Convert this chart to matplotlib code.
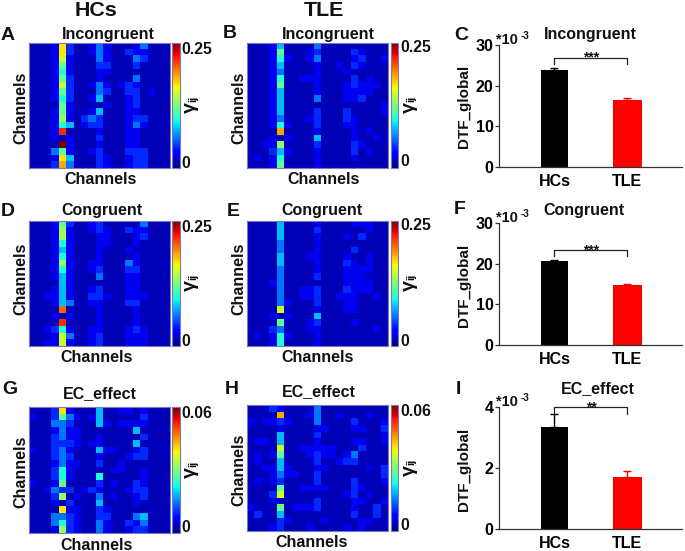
import numpy as np
import matplotlib
matplotlib.use('Agg')
import matplotlib.pyplot as plt

plt.rcParams['font.family'] = ['Liberation Sans', 'DejaVu Sans']
plt.rcParams['font.weight'] = 'bold'

W, H = 685, 551

# heatmap cells, one hex digit per cell
hcs_incongruent = [
    "1112a 31124 21112 4111",
    "1112a 31124 21132 2111",
    "11129 21114 21114 3111",
    "11127 21113 31113 1111",
    "11126 21112 21111 1111",
    "11127 31112 11114 1111",
    "11129 31124 21232 1111",
    "11127 31114 31133 1211",
    "11126 31125 11123 1111",
    "11117 21111 21123 1111",
    "11127 21125 11122 1111",
    "11128 21343 11123 3111",
    "11126 51233 11124 2111",
    "1112d 11112 11122 1111",
    "11121 21113 11122 1111",
    "1111f 21112 11122 1111",
    "11147 21123 11133 3111",
    "1112a 51113 21123 3111",
    "1113b 41113 21123 3111",
]
tle_incongruent = [
    "11125 11114 11111 1111",
    "11127 11123 11113 2111",
    "11126 21124 11112 3112",
    "11125 11112 11213 2111",
    "11124 11112 11121 1111",
    "11126 11222 11113 1211",
    "11127 11112 11123 2221",
    "11125 11112 11122 2211",
    "11125 11114 11122 3111",
    "11125 11111 11111 1112",
    "11125 11113 11131 1112",
    "11124 11123 11132 1111",
    "11126 21113 11122 1111",
    "1111b 11112 11112 1211",
    "11121 21115 11112 1121",
    "11228 11113 11113 2111",
    "11135 21112 11113 1211",
    "12126 11112 11112 1111",
    "11127 11112 11111 1111",
]
hcs_congruent = [
    "11127 31123 11111 4111",
    "11128 21123 21132 2111",
    "11128 21112 21112 3111",
    "11126 21112 21112 1111",
    "11125 21112 11121 1111",
    "11126 21112 11112 1111",
    "11128 21122 11142 1111",
    "11126 21123 11133 1111",
    "11125 21114 11122 1111",
    "11115 21111 11122 1111",
    "11125 21123 11122 1111",
    "11225 21133 21122 2111",
    "11125 41122 11133 1111",
    "1111c 11112 11112 1111",
    "11121 21112 11112 1111",
    "1111d 11112 11112 1111",
    "11236 21122 11123 2111",
    "11129 41123 11122 2111",
    "11229 21123 11122 2111",
]
tle_congruent = [
    "11115 11112 11112 2211",
    "11115 11113 11111 1211",
    "11115 11112 11121 3111",
    "11114 11112 11111 1111",
    "11114 11112 11113 1111",
    "11115 11122 11121 1211",
    "11115 11112 11132 1211",
    "11114 11112 11122 2211",
    "11114 11113 11122 2111",
    "11124 11111 11122 2211",
    "11114 11223 11132 2211",
    "11114 11223 11222 1121",
    "11114 21113 11122 1111",
    "11119 11112 11122 1111",
    "11121 21115 11111 1111",
    "11117 11123 11112 1111",
    "11134 11122 11111 1121",
    "12126 21112 11111 1111",
    "11126 11112 11111 1111",
]
hcs_effect = [
    "1113a 21115 11221 2111",
    "21137 42125 11111 3111",
    "11144 31115 21222 2111",
    "11124 22111 11115 1111",
    "11134 22112 11111 3111",
    "11133 32122 11115 1111",
    "21134 21115 22112 3111",
    "11134 31112 11123 3111",
    "11124 22113 11211 1111",
    "11136 21111 12211 2111",
    "11136 21116 11111 2111",
    "21127 11113 12113 2111",
    "11243 31232 11123 3111",
    "11138 12114 12112 3111",
    "11121 31115 11112 1111",
    "1111a 22113 21111 1111",
    "11144 32113 31114 5111",
    "11146 32114 21132 4111",
    "11128 32114 21123 3111",
]
tle_effect = [
    "11132 11114 11111 1111",
    "1111b 11124 11211 1211",
    "21223 21114 11113 1112",
    "11112 11112 21112 2113",
    "11115 11113 11111 1112",
    "12215 11112 11112 2112",
    "11119 11222 22111 3111",
    "12127 11123 22124 1111",
    "12115 11113 11233 1111",
    "11225 21112 21111 1213",
    "11124 22113 11111 1113",
    "12123 11113 11113 1112",
    "11117 11222 21113 2111",
    "11139 11111 11123 1211",
    "11121 11113 11112 2112",
    "21117 12223 11112 1131",
    "13115 11111 11113 1131",
    "11113 21111 21111 2211",
    "11123 11121 11121 2111",
]
# what each digit means as a fraction of the colorbar top
digit_levels = [0.0, 0.05, 0.10, 0.165, 0.24, 0.31, 0.39, 0.465,
                0.535, 0.6, 0.667, 0.733, 0.8, 0.867, 0.933, 1.0]

group_names = ['HCs', 'TLE']
incongruent_means = [23.8, 16.4]
incongruent_errs = [0.6, 0.5]
congruent_means = [20.6, 14.7]
congruent_errs = [0.4, 0.3]
effect_means = [3.35, 1.70]
effect_errs = [0.44, 0.20]


def px_axes(left, top, right, bottom):
    return fig.add_axes([left / W, 1 - bottom / H, (right - left) / W, (bottom - top) / H])


def put(x, y, s, size=11.5, **kw):
    kw.setdefault('ha', 'center')
    kw.setdefault('va', 'center')
    fig.text(x / W, 1 - y / H, s, fontsize=size, fontweight='bold', color='#111111', **kw)


def to_matrix(rows, vmax):
    m = [[digit_levels[int(c, 16)] for c in r.replace(' ', '')] for r in rows]
    return np.array(m) * vmax


def heat(rows, vmax, label, box, cbar_x, xlab, ylab, title, ticks_y):
    left, top, right, bottom = box
    ax = px_axes(left, top, right, bottom)
    im = ax.imshow(to_matrix(rows, vmax), cmap='jet', vmin=0, vmax=vmax, aspect='auto',
                   interpolation='nearest')
    ax.set_xticks([])
    ax.set_yticks([])
    for s in ax.spines.values():
        s.set_color('#7a7ab8')
        s.set_linewidth(0.8)
    cax = px_axes(cbar_x, top, cbar_x + 7.5, bottom)
    cb = fig.colorbar(im, cax=cax)
    cb.set_ticks([])
    cb.outline.set_edgecolor('#7a7ab8')
    cb.outline.set_linewidth(0.8)
    # colorbar labels sit inside the ends of the bar, like the original
    put(cbar_x + 9.5, ticks_y[0], label, size=11.3, ha='left')
    put(cbar_x + 9.5, ticks_y[1], '0', size=11.3, ha='left')
    mid = (top + bottom) / 2
    put(cbar_x + 18.5, mid + 2.5, 'γ', size=14, rotation=90)
    put(cbar_x + 21, mid - 6, 'ij', size=8, rotation=90)
    put(xlab[0], xlab[1], 'Channels')
    put(ylab[0], ylab[1], 'Channels', rotation=90)
    put(title[0], title[1], title[2])


def bars(means, errs, top, bottom, ymax, yticks, bracket, stars, title):
    ax = px_axes(499.3, top, 682, bottom)
    pos = np.arange(len(group_names))
    ax.bar(pos[0], means[0], width=0.38, color='black')
    ax.bar(pos[1], means[1], width=0.40, color='red')
    ax.errorbar(pos[0], means[0], yerr=[[0], [errs[0]]], color='black', capsize=3, elinewidth=1, capthick=1)
    ax.errorbar(pos[1], means[1], yerr=[[0], [errs[1]]], color='red', capsize=3, elinewidth=1, capthick=1)
    ax.set_xlim(-0.758, 1.751)
    ax.set_ylim(0, ymax)
    ax.set_yticks(yticks)
    ax.set_xticks(pos)
    ax.set_xticklabels(group_names, fontsize=11.5, fontweight='bold')
    ax.tick_params(axis='x', length=0, pad=5)
    ax.tick_params(axis='y', length=3, width=0.9, labelsize=11.5, pad=1, color='#333333')
    for lab in ax.get_yticklabels():
        lab.set_fontweight('bold')
    for s in ['top', 'right']:
        ax.spines[s].set_visible(False)
    for s in ['left', 'bottom']:
        ax.spines[s].set_color('#333333')
        ax.spines[s].set_linewidth(0.9)
    foot_l, foot_r, top_y = bracket
    ax.plot([pos[0], pos[0], pos[1], pos[1]], [foot_l, top_y, top_y, foot_r], color='#222222',
            lw=0.9, clip_on=False)
    ax.text(0.5, top_y, stars, ha='center', va='center', fontsize=10, fontweight='bold', color='#111111')
    put(464, (top + bottom) / 2 + 1, 'DTF_global', size=11, rotation=90)
    put(496.5, top - 5, '*10', size=10.5, ha='left')
    put(521, top - 9, '-3', size=7, ha='left')
    put(title[0], title[1], title[2])


fig = plt.figure(figsize=(W / 100, H / 100), dpi=100)

put(96, 10, 'HCs', size=15.4)
put(324.3, 10, 'TLE', size=15.4)

heat(hcs_incongruent, 0.25, '0.25', (29.3, 42.5, 170, 168), 172.3, (101, 179), (20.7, 108),
     (108, 34, 'Incongruent'), (49, 163))
heat(tle_incongruent, 0.25, '0.25', (247.3, 42.5, 388, 168), 390.7, (323.3, 179), (239.3, 108),
     (328, 34, 'Incongruent'), (48, 162))
heat(hcs_congruent, 0.25, '0.25', (29.3, 220.7, 170, 346), 172.3, (96.7, 357), (20.7, 279),
     (101.7, 210, 'Congruent'), (227, 341))
heat(tle_congruent, 0.25, '0.25', (247.3, 220.7, 388, 346), 390.7, (317.3, 357), (238.7, 279),
     (322, 210, 'Congruent'), (226, 341))
heat(hcs_effect, 0.06, '0.06', (29.3, 407.3, 170, 533.3), 172.3, (96.7, 545), (20.7, 472),
     (100, 393.5, 'EC_effect'), (414, 528))
heat(tle_effect, 0.06, '0.06', (247.3, 405, 388, 530.7), 390.7, (312, 542.5), (238.7, 470),
     (319.3, 392, 'EC_effect'), (412, 526))

bars(incongruent_means, incongruent_errs, 45, 166.7, 30, [0, 10, 20, 30], (25.2, 25.2, 26.9), '***',
     (590, 34, 'Incongruent'))
bars(congruent_means, congruent_errs, 223.3, 345, 30, [0, 10, 20, 30], (21.9, 21.9, 23.4), '***',
     (584.3, 210.7, 'Congruent'))
bars(effect_means, effect_errs, 407.3, 529.3, 4, [0, 2, 4], (3.75, 3.78, 4.0), '**',
     (597.7, 389, 'EC_effect'))

for x, y, s in [(8, 35, 'A'), (230, 34, 'B'), (461, 36, 'C'),
                (8, 212, 'D'), (233, 211, 'E'), (460, 210, 'F'),
                (10, 389, 'G'), (232, 390, 'H'), (458, 389, 'I')]:
    put(x, y, s, size=14)

fig.savefig('out.png', dpi=100)
